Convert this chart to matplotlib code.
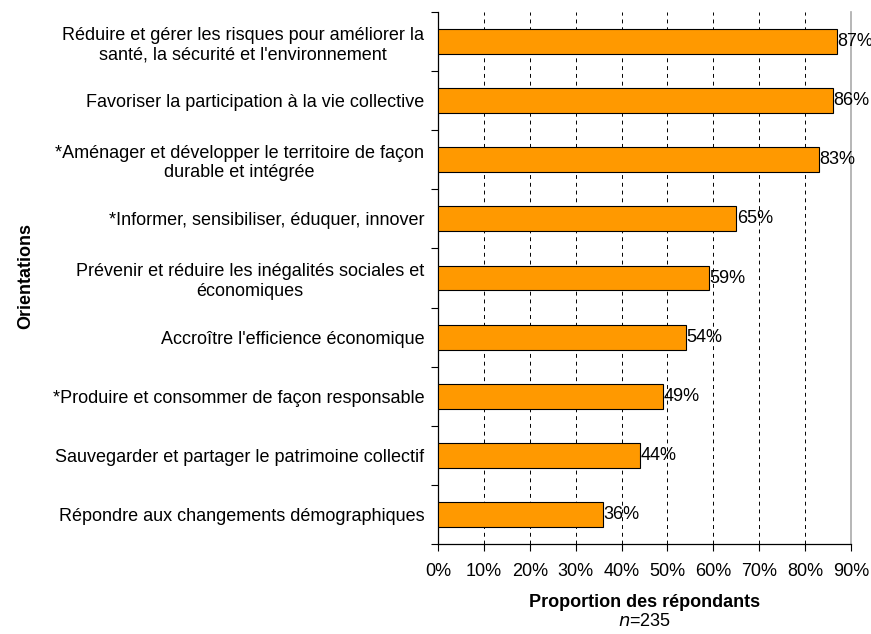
"""Horizontal bar chart: proportion of respondents per orientation."""

import matplotlib

matplotlib.use("Agg")
import matplotlib.pyplot as plt  # noqa: E402
from matplotlib.ticker import FixedLocator, PercentFormatter  # noqa: E402

categories = [
    "Réduire et gérer les risques pour améliorer la\nsanté, la sécurité et l'environnement",
    "Favoriser la participation à la vie collective",
    "*Aménager et développer le territoire de façon\ndurable et intégrée",
    "*Informer, sensibiliser, éduquer, innover",
    "Prévenir et réduire les inégalités sociales et\néconomiques",
    "Accroître l'efficience économique",
    "*Produire et consommer de façon responsable",
    "Sauvegarder et partager le patrimoine collectif",
    "Répondre aux changements démographiques",
]
values = [87, 86, 83, 65, 59, 54, 49, 44, 36]
x_ticks = [0, 10, 20, 30, 40, 50, 60, 70, 80, 90]

BAR = "#ff9900"
FS = 13

plt.rcParams.update({
    "font.family": ["Liberation Sans", "DejaVu Sans"],
    "font.size": FS,
})

fig = plt.figure(figsize=(8.71, 6.34), dpi=100)
ax = fig.add_axes([0.503, 0.142, 0.474, 0.839])

n = len(categories)
ypos = list(range(n))
ax.barh(ypos, values, height=0.42, color=BAR, edgecolor="black", lw=0.8, zorder=3)
for y, v in zip(ypos, values):
    ax.text(v + 0.1, y, f"{v}%", va="center", ha="left", fontsize=FS, zorder=4)

ax.set_xlim(0, 90)
ax.set_ylim(n - 0.5, -0.5)
ax.xaxis.set_major_locator(FixedLocator(x_ticks))
ax.xaxis.set_major_formatter(PercentFormatter(decimals=0))
ax.tick_params(axis="x", direction="out", length=5, width=0.8, pad=9, labelsize=FS)

# category labels without ticks; separators as minor ticks at the boundaries
ax.set_yticks(ypos)
ax.set_yticklabels(categories, multialignment="center", fontsize=FS)
ax.tick_params(axis="y", which="major", length=0, pad=10)
ax.set_yticks([i - 0.5 for i in range(n + 1)], minor=True)
ax.tick_params(axis="y", which="minor", length=5, width=0.8, direction="out")

for x in x_ticks[1:-1]:
    ax.axvline(x, color="black", lw=0.7, ls=(0, (4, 4)), zorder=1)

ax.spines["top"].set_visible(False)
ax.spines["right"].set_color("#aaaaaa")
ax.spines["right"].set_linewidth(1.2)
ax.spines["left"].set_linewidth(0.9)
ax.spines["bottom"].set_linewidth(0.9)

ax.set_xlabel("Proportion des répondants", fontweight="bold", fontsize=FS, labelpad=10)
fig.text(0.74, 0.019, r"$\it{n}$=235", ha="center", va="center", fontsize=FS)
fig.text(0.029, 0.565, "Orientations", rotation=90,
         fontweight="bold", fontsize=FS, ha="center", va="center")

fig.savefig("out.png", dpi=100)
plt.close(fig)
